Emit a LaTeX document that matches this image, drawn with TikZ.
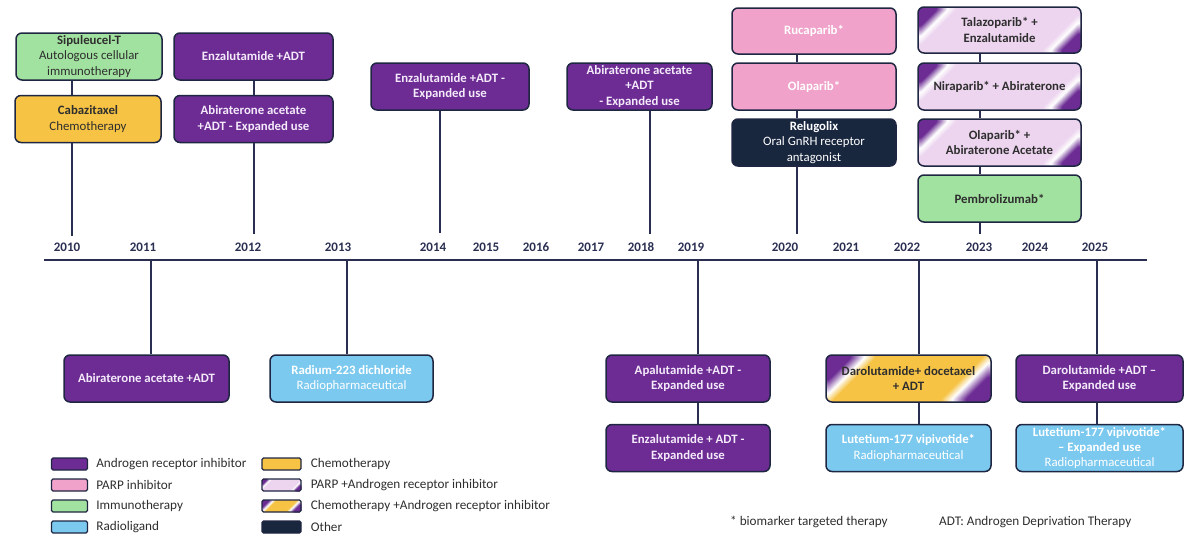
\documentclass[tikz,border=0pt]{standalone}
\usepackage{fontspec}
\setmainfont{Carlito}
\usepackage{xcolor}
\usepackage{tikz}
\usetikzlibrary{shapes, positioning}
\definecolor{arpurple}{HTML}{6C2C94}
\definecolor{arlight}{HTML}{F4EAFA}
\definecolor{parppink}{HTML}{F0A2CA}
\definecolor{immgreen}{HTML}{A2E2A0}
\definecolor{chemogold}{HTML}{F6C344}
\definecolor{radblue}{HTML}{7BC9EF}
\definecolor{othernavy}{HTML}{18263E}
\definecolor{parplav}{HTML}{EDD5F0}
\definecolor{boxedge}{HTML}{1F2642}
\definecolor{stemblue}{HTML}{2A2F52}
\definecolor{inkgrey}{HTML}{2E2E2E}
\def\evfont{\fontsize{12.8}{15.5}\selectfont}
% corner fades for the mixed categories: #1 base, #2 corner colour, #3 size
\newcommand{\mixcorners}[3]{%
  \foreach \k in {0,...,24} {
    \pgfmathsetmacro{\sz}{1.9-0.0375*\k}
    \pgfmathtruncatemacro{\pb}{max(0,min(100,(\sz-1.5)/0.4*100))}
    \pgfmathtruncatemacro{\pp}{max(0,min(100,(1.5-\sz)/0.5*100))}
    \ifnum\pb>0 \colorlet{fadec}{#1!\pb!white}\else\colorlet{fadec}{#2!\pp!white}\fi
    \fill[fadec] (path picture bounding box.north west) -- ++(#3*\sz,0) -- ++(-#3*\sz,#3*\sz) -- cycle;
    \fill[fadec] (path picture bounding box.south east) -- ++(-#3*\sz,0) -- ++(#3*\sz,-#3*\sz) -- cycle;
  }}
\tikzstyle{event}=[draw=boxedge, line width=1.5pt, rounded corners=6pt, align=center, minimum height=47pt, inner sep=2pt, font=\evfont, text=inkgrey]
\tikzstyle{ar}=[event, fill=arpurple, text=arlight, font=\evfont\bfseries]
\tikzstyle{parp}=[event, fill=parppink, text=white, font=\evfont\bfseries]
\tikzstyle{immuno}=[event, fill=immgreen]
\tikzstyle{chemo}=[event, fill=chemogold]
\tikzstyle{radio}=[event, fill=radblue, text=white]
\tikzstyle{other}=[event, fill=othernavy, text=white]
\tikzstyle{parpar}=[event, fill=parplav, font=\evfont\bfseries, path picture={\mixcorners{parplav}{arpurple}{22}}]
\tikzstyle{chemoar}=[event, fill=chemogold, font=\evfont\bfseries, path picture={\mixcorners{chemogold}{arpurple}{28}}]
\tikzstyle{stem}=[draw=stemblue, line width=2.2pt]
\tikzstyle{yearlbl}=[font=\fontsize{13}{13}\selectfont\bfseries, text=stemblue, inner sep=0pt]
\tikzstyle{swatch}=[draw=boxedge, line width=1.3pt, rounded corners=1.5pt, minimum height=12pt, inner sep=0pt]
\tikzstyle{legtext}=[font=\fontsize{13.2}{15}\selectfont, text=inkgrey, inner sep=0pt, anchor=west]

\begin{document}
\begin{tikzpicture}[x=1pt, y=-1pt]
\useasboundingbox (0,0) rectangle (1200,549);

% timeline
\coordinate (tstart) at (44,260);
\coordinate (tend) at (1147,260);
\draw[stem] (tstart) -- (tend);
\foreach \yr/\xx in {2010/67, 2011/143, 2012/248, 2013/338, 2014/433, 2015/486, 2016/536, 2017/591, 2018/641, 2019/691, 2020/785, 2021/846, 2022/907, 2023/979, 2024/1035, 2025/1095}
  \node[yearlbl] (y\yr) at (\xx,247) {\yr};

% stem ends
\coordinate (s10) at (72,236);
\coordinate (s12) at (254,234);
\coordinate (s14) at (440,233);
\coordinate (s18) at (650,234);
\coordinate (s20) at (797,234);
\coordinate (s23) at (980,234);
\coordinate (b11) at (151,260);
\coordinate (b13) at (347,260);
\coordinate (b19) at (698,260);
\coordinate (b22) at (919,260);
\coordinate (b25) at (1097,260);

% approvals above the line
\node[immuno, minimum width=146pt] (sip) at (89,56.5) {\textbf{Sipuleucel-T}\\Autologous cellular\\immunotherapy};
\node[chemo, minimum width=146pt] (cab) at (88,119) {\textbf{Cabazitaxel}\\Chemotherapy};
\node[ar, minimum width=159pt] (enz12) at (253.5,56.5) {Enzalutamide +ADT};
\node[ar, minimum width=159pt] (abi12) at (253.5,119) {Abiraterone acetate\\+ADT - Expanded use};
\node[ar, minimum width=158pt] (enz14) at (450,86.5) {Enzalutamide +ADT -\\Expanded use};
\node[ar, minimum width=145pt] (abi18) at (639.5,86.5) {Abiraterone acetate\\+ADT\\- Expanded use};
\node[parp, minimum width=164pt, minimum height=46pt] (ruc) at (814,31) {Rucaparib*};
\node[parp, minimum width=164pt] (ola20) at (814,86.5) {Olaparib*};
\node[other, minimum width=164pt] (rel) at (814,142.5) {\textbf{Relugolix}\\Oral GnRH receptor\\antagonist};
\node[parpar, minimum width=163pt, minimum height=46pt] (tal) at (999.5,30) {Talazoparib* +\\Enzalutamide};
\node[parpar, minimum width=163pt] (nir) at (999.5,86.5) {Niraparib* + Abiraterone};
\node[parpar, minimum width=163pt] (olaabi) at (999.5,142.5) {Olaparib* +\\Abiraterone Acetate};
\node[immuno, minimum width=163pt, font=\evfont\bfseries] (pem) at (999.5,198.5) {Pembrolizumab*};

% approvals below the line
\node[ar, minimum width=165pt] (abi11) at (146.5,378.5) {Abiraterone acetate +ADT};
\node[radio, minimum width=163pt] (rad) at (351.5,378.5) {\textbf{Radium-223 dichloride}\\Radiopharmaceutical};
\node[ar, minimum width=164pt] (apa) at (688,378.5) {Apalutamide +ADT -\\Expanded use};
\node[ar, minimum width=164pt] (enz19) at (688,448) {Enzalutamide + ADT -\\Expanded use};
\node[chemoar, minimum width=165pt] (daro) at (908.5,378.5) {Darolutamide+ docetaxel\\+ ADT};
\node[radio, minimum width=165pt] (lut) at (908.5,448) {\textbf{Lutetium-177 vipivotide*}\\Radiopharmaceutical};
\node[ar, minimum width=167pt] (daro25) at (1099.5,378.5) {Darolutamide +ADT --\\Expanded use};
\node[radio, minimum width=167pt, font=\fontsize{12.8}{14.8}\selectfont] (lut25) at (1099.5,448) {\textbf{Lutetium-177 vipivotide*}\\\textbf{-- Expanded use}\\Radiopharmaceutical};

% stems
\draw[stem] (sip.south -| s10) -- (cab.north -| s10);
\draw[stem] (cab.south -| s10) -- (s10);
\draw[stem] (enz12.south -| s12) -- (abi12.north -| s12);
\draw[stem] (abi12.south -| s12) -- (s12);
\draw[stem] (enz14.south -| s14) -- (s14);
\draw[stem] (abi18.south -| s18) -- (s18);
\draw[stem] (ruc.south -| s20) -- (ola20.north -| s20);
\draw[stem] (ola20.south -| s20) -- (rel.north -| s20);
\draw[stem] (rel.south -| s20) -- (s20);
\draw[stem] (tal.south -| s23) -- (nir.north -| s23);
\draw[stem] (nir.south -| s23) -- (olaabi.north -| s23);
\draw[stem] (olaabi.south -| s23) -- (pem.north -| s23);
\draw[stem] (pem.south -| s23) -- (s23);
\draw[stem] (b11) -- (abi11.north -| b11);
\draw[stem] (b13) -- (rad.north -| b13);
\draw[stem] (b19) -- (apa.north -| b19);
\draw[stem] (apa.south -| b19) -- (enz19.north -| b19);
\draw[stem] (b22) -- (daro.north -| b22);
\draw[stem] (daro.south -| b22) -- (lut.north -| b22);
\draw[stem] (b25) -- (daro25.north -| b25);
\draw[stem] (daro25.south -| b25) -- (lut25.north -| b25);

% legend
\foreach \fc/\lbl [count=\i] in {arpurple/Androgen receptor inhibitor, parppink/PARP inhibitor, immgreen/Immunotherapy, radblue/Radioligand} {
  \node[swatch, fill=\fc, minimum width=36pt] (lg\i) at (69.5,443+21*\i) {};
  \node[legtext, right=8pt of lg\i] (lgt\i) {\lbl};
}
\node[swatch, fill=chemogold, minimum width=39pt] (lg5) at (281.5,464) {};
\node[legtext, right=9pt of lg5] (lgt5) {Chemotherapy};
\node[swatch, fill=parplav, minimum width=39pt, path picture={\mixcorners{parplav}{arpurple}{6}}] (lg6) at (281.5,485) {};
\node[legtext, right=9pt of lg6] (lgt6) {PARP +Androgen receptor inhibitor};
\node[swatch, fill=chemogold, minimum width=39pt, path picture={\mixcorners{chemogold}{arpurple}{8}}] (lg7) at (281.5,506) {};
\node[legtext, right=9pt of lg7] (lgt7) {Chemotherapy +Androgen receptor inhibitor};
\node[swatch, fill=othernavy, minimum width=39pt] (lg8) at (281.5,527) {};
\node[legtext, right=9pt of lg8] (lgt8) {Other};

% footnotes
\node[legtext] (note1) at (730,522) {* biomarker targeted therapy};
\node[legtext] (note2) at (939,522) {ADT: Androgen Deprivation Therapy};
\end{tikzpicture}
\end{document}
